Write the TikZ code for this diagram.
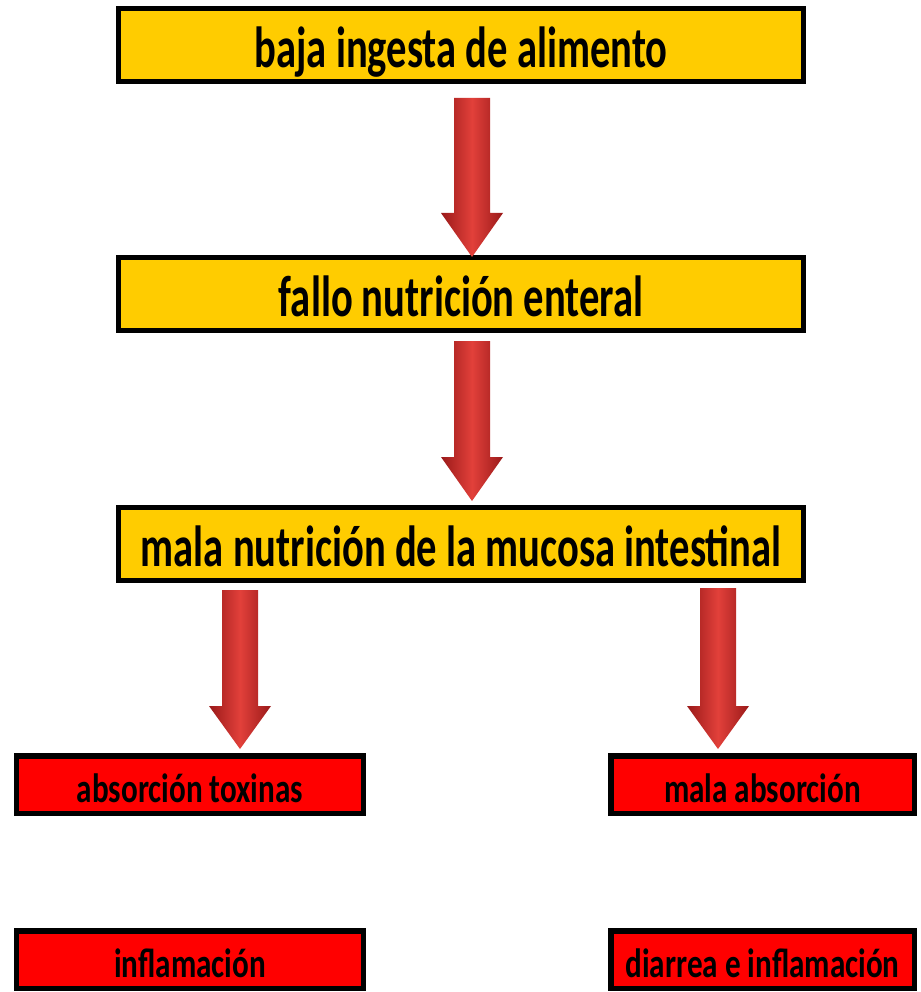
\documentclass[tikz,border=0pt]{standalone}
\usepackage{fontspec}
\setmainfont{Carlito}
\usepackage{graphicx}
\definecolor{boxyellow}{HTML}{FFCC00}
\definecolor{boxred}{HTML}{FF0000}
\definecolor{arrdark}{HTML}{9A1A1A}
\definecolor{arrlight}{HTML}{E2403A}
\newcommand{\sqz}[1]{\scalebox{0.7}[1]{#1}}
\newcommand{\sqr}[1]{\scalebox{0.76}[1]{#1}}
\newcommand{\blockarr}[3]{%
  \coordinate (#1-top) at (#2,#3);
  \path[left color=arrdark,right color=arrdark,middle color=arrlight]
    ([xshift=-18pt]#1-top) -- ([xshift=18pt]#1-top)
    -- ([xshift=18pt]#1-neck) -- ([xshift=31pt]#1-neck)
    -- (#1-tip) -- ([xshift=-31pt]#1-neck) -- ([xshift=-18pt]#1-neck) -- cycle;}
\begin{document}
\begin{tikzpicture}[x=1pt,y=-1pt,
  ybox/.style={draw=black,line width=5pt,fill=boxyellow,minimum width=685pt,minimum height=73pt,inner sep=0pt,text height=45pt,text depth=0pt,font=\fontsize{58}{58}\bfseries},
  rbox/.style={draw=black,line width=5.5pt,fill=boxred,minimum height=57.5pt,inner sep=0pt,text height=35pt,text depth=0pt,font=\fontsize{41}{41}\bfseries}]
\useasboundingbox (0,0) rectangle (920,992);
\node[ybox] (b1) at (461,45) {\sqz{baja ingesta de alimento}};
\node[ybox] (b2) at (461,294) {\sqz{fallo nutrición enteral}};
\node[ybox] (b3) at (461,543.5) {\sqz{mala nutrición de la mucosa intestinal}};
\node[rbox,minimum width=347pt] (r1) at (190,784.5) {\sqr{absorción toxinas}};
\node[rbox,minimum width=303.5pt] (r2) at (762.5,784.5) {\sqr{mala absorción}};
\node[rbox,minimum width=347pt] (r3) at (190,959.5) {\sqr{inflamación}};
\node[rbox,minimum width=303.5pt] (r4) at (762.5,959.5) {\sqr{diarrea e inflamación}};
% arrows
\coordinate (a1-neck) at (472,213); \coordinate (a1-tip) at (472,257);
\blockarr{a1}{472}{98}
\coordinate (a2-neck) at (472,457); \coordinate (a2-tip) at (472,501);
\blockarr{a2}{472}{341}
\coordinate (a3-neck) at (240,706); \coordinate (a3-tip) at (240,749);
\blockarr{a3}{240}{590}
\coordinate (a4-neck) at (718,706); \coordinate (a4-tip) at (718,749);
\blockarr{a4}{718}{588}
\end{tikzpicture}
\end{document}
